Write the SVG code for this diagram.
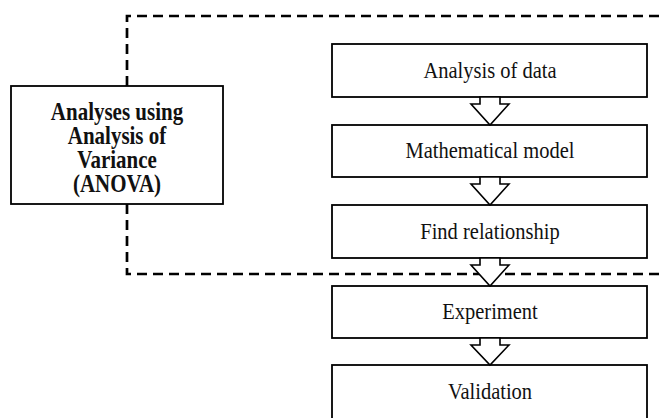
<svg xmlns="http://www.w3.org/2000/svg" width="665" height="418" viewBox="0 0 665 418">
<style>
.box{fill:#fff;stroke:#000;stroke-width:1.8}
.arr{fill:#fff;stroke:#000;stroke-width:1.6;stroke-linejoin:miter}
.dash{fill:none;stroke:#000;stroke-width:2.7;stroke-dasharray:10 6}
.t{font-family:"Liberation Serif","Times New Roman",serif;font-size:20.5px;text-anchor:middle;fill:#111}
.b{font-family:"Liberation Serif","Times New Roman",serif;font-size:21px;font-weight:bold;text-anchor:middle;fill:#111}
</style>
<rect width="665" height="418" fill="#fff"/>
<g id="anova">
<rect class="box" x="11" y="86" width="212" height="118"/>
<text class="b" transform="translate(117,120) scale(1,1.15)">Analyses using</text>
<text class="b" transform="translate(117,144) scale(1,1.15)">Analysis of</text>
<text class="b" transform="translate(117,168) scale(1,1.15)">Variance</text>
<text class="b" transform="translate(117,192) scale(1,1.15)">(ANOVA)</text>
</g>
<g id="analysis">
<rect class="box" x="332" y="44" width="315" height="53"/>
<text class="t" transform="translate(490,78) scale(1,1.15)">Analysis of data</text>
</g>
<g id="model">
<rect class="box" x="332" y="125" width="315" height="52"/>
<text class="t" transform="translate(490,158) scale(1,1.15)">Mathematical model</text>
</g>
<g id="relationship">
<rect class="box" x="332" y="205" width="315" height="53"/>
<text class="t" transform="translate(490,239) scale(1,1.15)">Find relationship</text>
</g>
<g id="experiment">
<rect class="box" x="332" y="286" width="315" height="52"/>
<text class="t" transform="translate(490,319) scale(1,1.15)">Experiment</text>
</g>
<g id="validation">
<rect class="box" x="332" y="365" width="315" height="70"/>
<text class="t" transform="translate(490,399) scale(1,1.15)">Validation</text>
</g>
<g id="connectors">
<path class="dash" d="M127 86 V16 H665"/>
<path class="dash" d="M127 204 V274 H665"/>
<polygon class="arr" points="480,97 480,104 471,104 490,125 509,104 500,104 500,97"/>
<polygon class="arr" points="480,177 480,184 471,184 490,205 509,184 500,184 500,177"/>
<polygon class="arr" points="480,258 480,265 471,265 490,286 509,265 500,265 500,258"/>
<polygon class="arr" points="480,338 480,345 471,345 490,365 509,345 500,345 500,338"/>
</g>
</svg>
